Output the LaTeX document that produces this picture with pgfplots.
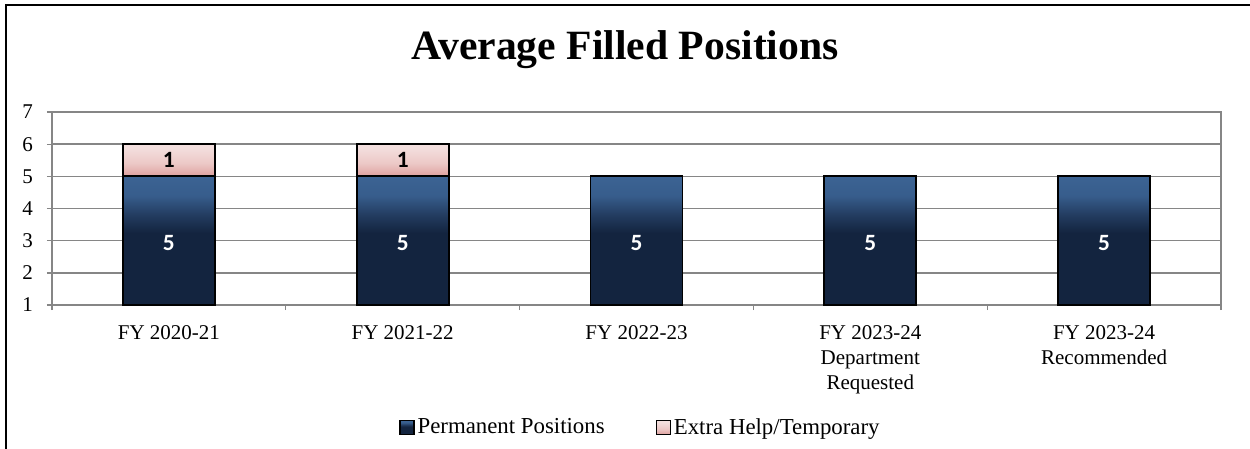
\documentclass[border=0pt]{standalone}
\usepackage{pgfplots}
\pgfplotsset{compat=1.18}
\usepackage{fontspec}
\setmainfont{Liberation Serif}
\newfontfamily\calibri{Carlito}
\definecolor{permdark}{RGB}{19,36,63}
\definecolor{permmid}{RGB}{35,60,96}
\definecolor{permlight}{RGB}{55,93,140}
\definecolor{permtop}{RGB}{60,99,147}
\definecolor{pinklight}{RGB}{243,223,222}
\definecolor{pinkmid}{RGB}{236,200,198}
\definecolor{pinkdark}{RGB}{222,160,158}
\definecolor{gridgray}{RGB}{134,134,134}
\pgfdeclareverticalshading{permshade}{100bp}{color(0bp)=(permdark); color(25bp)=(permdark); color(53bp)=(permdark); color(60bp)=(permmid); color(67.5bp)=(permlight); color(75bp)=(permtop); color(100bp)=(permtop)}
\pgfdeclareverticalshading{pinkshade}{100bp}{color(0bp)=(pinkdark); color(25bp)=(pinkdark); color(45bp)=(pinkmid); color(70bp)=(pinklight); color(100bp)=(pinklight)}
\begin{document}
\begin{tikzpicture}
\path[use as bounding box] (0pt,0pt) rectangle (750pt,268.8pt);
\draw[line width=1.2pt] (3.6pt,-10pt) -- (3.6pt,265.8pt) -- (760pt,265.8pt);
\node[anchor=base, font=\fontsize{25}{30}\selectfont\bfseries] at (375pt,233.4pt) {Average Filled Positions};
\begin{axis}[
  at={(31.2pt,85.8pt)}, anchor=south west,
  scale only axis, width=701.4pt, height=115.8pt,
  ybar stacked, bar width=55.2pt,
  xmin=-0.5, xmax=4.5, ymin=1, ymax=7,
  enlargelimits=false,
  xtick={0,1,2,3,4},
  xticklabels={FY 2020-21, FY 2021-22, FY 2022-23, {FY 2023-24\\Department\\Requested}, {FY 2023-24\\Recommended}},
  minor xtick={-0.5,0.5,1.5,2.5,3.5,4.5},
  ytick={1,2,3,4,5,6,7},
  tick align=outside, tick pos=left,
  major x tick style={draw=none},
  minor x tick style={gridgray, line width=0.8pt},
  minor tick length=3pt,
  major tick length=3pt,
  y tick style={gridgray, line width=0.8pt},
  ymajorgrids, grid style={gridgray, line width=0.9pt},
  axis line style={gridgray, line width=0.9pt},
  /pgf/number format/assume math mode=true,
  tick label style={font=\fontsize{12.6}{15}\selectfont},
  x tick label style={align=center, yshift=-5.5pt},
  y tick label style={xshift=-5pt},
  legend style={at={(0.5,-0.635)}, anchor=center, xshift=2.5pt, draw=none, legend columns=2,
    font=\fontsize{13.7}{16}\selectfont,
    nodes={inner xsep=1.5pt},
    /tikz/every even column/.append style={column sep=29pt}},
  legend cell align=left,
  legend image code/.code={\draw[#1] (0pt,-4.2pt) rectangle (8.4pt,4.2pt);},
]
\addplot[draw=black, line width=1.1pt, shade, shading=permshade,
  nodes near coords, point meta=explicit symbolic,
  nodes near coords align={center},
  nodes near coords style={text=white, font=\calibri\bfseries\fontsize{14}{16}\selectfont, anchor=center, yshift=8pt}]
  coordinates {(0,5) [5] (1,5) [5] (2,5) [5] (3,5) [5] (4,5) [5]};
\addlegendentry{Permanent Positions}
\addplot[draw=black, line width=1.1pt, shade, shading=pinkshade,
  nodes near coords, point meta=explicit symbolic,
  nodes near coords align={center},
  nodes near coords style={text=black, font=\calibri\bfseries\fontsize{14}{16}\selectfont, anchor=center}]
  coordinates {(0,1) [1] (1,1) [1]};
\addlegendentry{Extra Help/Temporary}
\end{axis}
\end{tikzpicture}
\end{document}
